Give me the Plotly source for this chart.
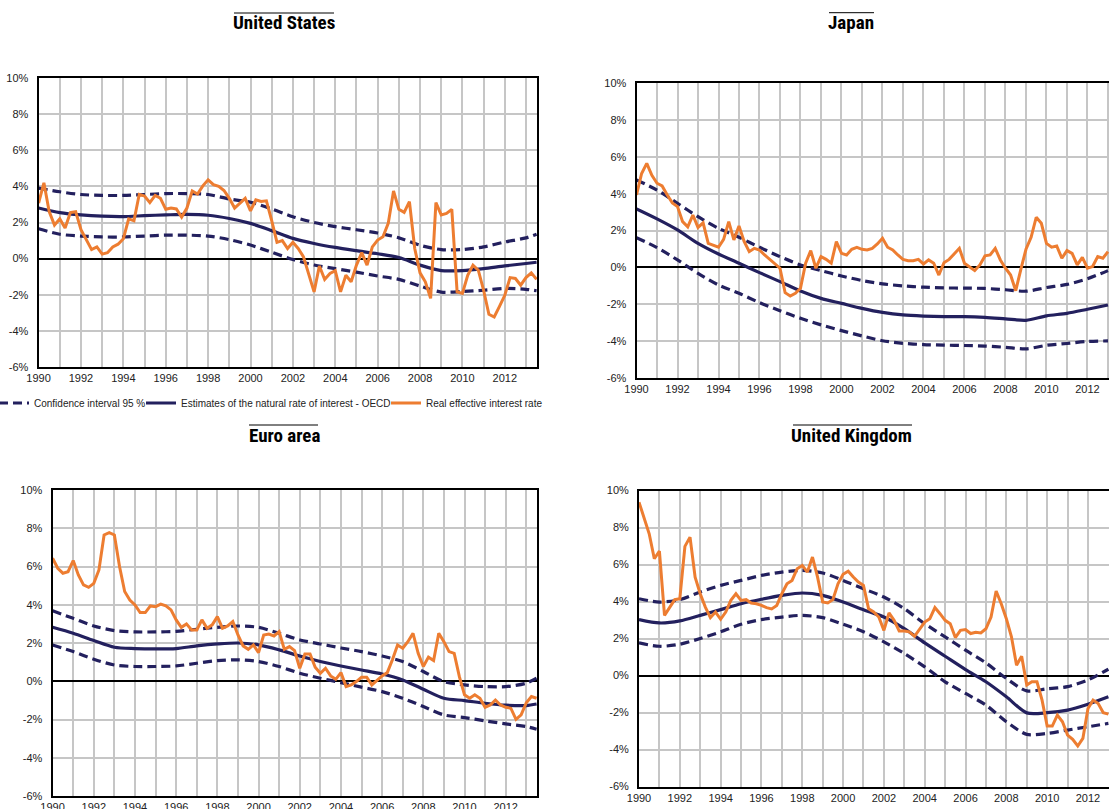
import plotly.graph_objects as go

# ---------------- DATA ----------------
panel_titles = ["United States", "Japan", "Euro area", "United Kingdom"]
series_names = ["Confidence interval 95 %",
                "Estimates of the natural rate of interest - OECD",
                "Real effective interest rate"]
y_tick_vals = [-6, -4, -2, 0, 2, 4, 6, 8, 10]
y_tick_text = ["-6%", "-4%", "-2%", "0%", "2%", "4%", "6%", "8%", "10%"]

# yearly points for the smooth estimates
years_long = [1990, 1991, 1992, 1993, 1994, 1995, 1996, 1997, 1998, 1999, 2000, 2001,
              2002, 2003, 2004, 2005, 2006, 2007, 2008, 2009, 2010, 2011, 2012, 2013, 2013.5]
years_short = [1990, 1991, 1992, 1993, 1994, 1995, 1996, 1997, 1998, 1999, 2000, 2001,
               2002, 2003, 2004, 2005, 2006, 2007, 2008, 2009, 2010, 2011, 2012, 2013]

# United States
us_nat = [2.8, 2.55, 2.42, 2.35, 2.33, 2.38, 2.42, 2.45, 2.4, 2.22, 1.95, 1.55,
          1.12, 0.84, 0.62, 0.44, 0.27, 0.06, -0.36, -0.66, -0.66, -0.55, -0.4, -0.27, -0.2]
us_up = [3.9, 3.7, 3.55, 3.5, 3.5, 3.55, 3.6, 3.6, 3.55, 3.3, 3.12, 2.75,
         2.32, 2.0, 1.77, 1.6, 1.42, 1.15, 0.74, 0.5, 0.5, 0.65, 0.92, 1.15, 1.35]
us_lo = [1.65, 1.35, 1.25, 1.2, 1.2, 1.25, 1.3, 1.3, 1.25, 1.05, 0.75, 0.35,
         -0.05, -0.35, -0.55, -0.75, -0.96, -1.15, -1.52, -1.85, -1.82, -1.75, -1.65, -1.7, -1.78]
us_real = [3.07, 4.2, 2.6, 1.86, 2.2, 1.7, 2.55, 2.6, 1.6, 1.06, 0.5, 0.65,
           0.25, 0.33, 0.65, 0.8, 1.1, 2.2, 2.1, 3.56, 3.47, 3.1, 3.5, 3.34,
           2.73, 2.8, 2.75, 2.3, 2.8, 3.75, 3.58, 4.03, 4.36, 4.1, 4.0, 3.77,
           3.34, 2.8, 3.07, 3.34, 2.64, 3.25, 3.16, 3.2, 2.1, 0.9, 1.0, 0.56,
           0.9, 0.56, 0.1, -0.86, -1.84, -0.41, -1.15, -0.82, -0.67, -1.84, -0.92, -1.28,
           -0.36, 0.33, -0.36, 0.65, 1.03, 1.21, 1.95, 3.75, 2.73, 2.56, 3.16, 0.56,
           -0.79, -1.28, -2.2, 3.1, 2.42, 2.5, 2.73, -1.84, -1.93, -0.92, -0.36, -0.64,
           -1.75, -3.08, -3.23, -2.64, -2.03, -1.05, -1.1, -1.47, -1.05, -0.79, -1.15]

# Japan
jp_nat = [3.17, 2.63, 2.03, 1.3, 0.72, 0.22, -0.29, -0.78, -1.29, -1.69, -1.96, -2.23,
          -2.45, -2.59, -2.65, -2.68, -2.68, -2.72, -2.8, -2.88, -2.64, -2.5, -2.28, -2.05]
jp_up = [4.75, 4.2, 3.48, 2.75, 2.12, 1.63, 1.09, 0.58, 0.13, -0.18, -0.47, -0.72,
         -0.9, -1.01, -1.08, -1.12, -1.13, -1.15, -1.22, -1.3, -1.1, -0.93, -0.62, -0.18]
jp_lo = [1.61, 1.07, 0.4, -0.33, -0.96, -1.41, -1.92, -2.36, -2.77, -3.13, -3.44, -3.73,
         -3.99, -4.13, -4.2, -4.23, -4.25, -4.28, -4.35, -4.43, -4.24, -4.14, -4.03, -4.0]
jp_real = [3.93, 5.1, 5.65, 5.0, 4.57, 4.42, 3.93, 3.5, 3.3, 2.48, 2.2, 2.84,
           2.17, 2.42, 1.3, 1.21, 1.09, 1.52, 2.48, 1.49, 2.25, 1.4, 0.85, 1.03,
           0.94, 0.67, 0.43, 0.22, -0.05, -1.38, -1.56, -1.41, -1.14, 0.22, 0.91, -0.05,
           0.58, 0.43, 0.22, 1.4, 0.76, 0.67, 0.98, 1.09, 0.98, 0.94, 1.03, 1.27,
           1.58, 1.09, 0.94, 0.67, 0.43, 0.36, 0.36, 0.43, 0.18, 0.4, 0.22, -0.42,
           0.25, 0.43, 0.72, 1.03, 0.22, 0.04, -0.18, 0.13, 0.62, 0.67, 1.03, 0.4,
           -0.05, -0.42, -1.27, -0.11, 0.98, 1.63, 2.72, 2.39, 1.3, 1.09, 1.16, 0.49,
           0.91, 0.76, 0.13, 0.54, -0.05, 0.04, 0.58, 0.49, 0.85]

# Euro area
ea_nat = [2.82, 2.51, 2.13, 1.78, 1.71, 1.69, 1.71, 1.85, 1.95, 2.0, 1.9, 1.64,
          1.32, 1.03, 0.8, 0.59, 0.38, 0.07, -0.42, -0.89, -1.01, -1.15, -1.25, -1.27, -1.19]
ea_up = [3.68, 3.29, 2.89, 2.65, 2.58, 2.58, 2.61, 2.72, 2.82, 2.89, 2.82, 2.51,
         2.16, 1.95, 1.74, 1.55, 1.32, 1.03, 0.51, -0.02, -0.19, -0.28, -0.28, -0.1, 0.16]
ea_lo = [1.9, 1.55, 1.15, 0.85, 0.77, 0.77, 0.8, 0.94, 1.08, 1.12, 1.03, 0.77,
         0.42, 0.16, -0.07, -0.31, -0.54, -0.89, -1.32, -1.76, -1.9, -2.07, -2.23, -2.37, -2.51]
ea_real = [6.43, 5.91, 5.65, 5.73, 6.31, 5.56, 5.04, 4.91, 5.12, 5.82, 7.65, 7.77,
           7.65, 6.0, 4.69, 4.25, 3.99, 3.59, 3.59, 3.94, 3.9, 4.03, 3.94, 3.73,
           3.21, 2.82, 3.0, 2.68, 2.68, 3.21, 2.77, 2.95, 3.38, 2.77, 2.89, 3.12,
           2.42, 1.85, 1.67, 1.9, 1.5, 2.42, 2.47, 2.37, 2.6, 1.67, 1.81, 1.6,
           0.68, 1.43, 1.43, 0.73, 0.42, 0.68, 0.28, 0.1, 0.45, -0.28, -0.19, -0.02,
           0.21, 0.21, -0.19, 0.07, 0.28, 0.45, 1.12, 1.9, 1.73, 2.07, 2.51, 1.46,
           0.77, 1.26, 1.08, 2.51, 2.07, 1.55, 1.46, 0.24, -0.71, -0.89, -0.71, -0.89,
           -1.36, -1.24, -0.98, -1.24, -1.36, -1.41, -1.99, -1.76, -1.12, -0.8, -0.89]

# United Kingdom
uk_nat = [3.02, 2.84, 2.95, 3.25, 3.56, 3.88, 4.12, 4.33, 4.46, 4.33, 3.97, 3.56,
          3.16, 2.53, 1.76, 1.04, 0.32, -0.34, -1.15, -2.02, -2.01, -1.87, -1.55, -1.15]
uk_up = [4.15, 3.97, 4.1, 4.51, 4.87, 5.14, 5.41, 5.59, 5.68, 5.54, 5.14, 4.69,
         4.24, 3.61, 2.8, 2.09, 1.37, 0.68, -0.16, -0.83, -0.72, -0.6, -0.24, 0.34]
uk_lo = [1.76, 1.58, 1.69, 2.0, 2.36, 2.77, 3.02, 3.16, 3.25, 3.13, 2.77, 2.36,
         1.82, 1.19, 0.47, -0.34, -0.97, -1.6, -2.5, -3.18, -3.13, -2.95, -2.77, -2.59]
uk_real = [9.37, 8.56, 7.66, 6.31, 6.72, 3.25, 3.7, 4.1, 4.15, 6.98, 7.48, 5.32,
           4.42, 3.7, 3.13, 3.43, 3.04, 3.43, 4.06, 4.42, 4.06, 4.1, 3.92, 3.88,
           3.79, 3.67, 3.6, 3.79, 4.42, 4.96, 5.14, 5.77, 5.95, 5.59, 6.4, 5.32,
           3.97, 3.92, 4.1, 4.96, 5.47, 5.64, 5.32, 5.05, 4.87, 3.61, 3.43, 3.16,
           2.44, 3.38, 2.98, 2.41, 2.41, 2.36, 2.12, 2.53, 2.89, 3.07, 3.67, 3.34,
           2.98, 2.8, 2.05, 2.44, 2.48, 2.27, 2.34, 2.3, 2.53, 3.16, 4.57, 3.88,
           3.07, 2.09, 0.56, 1.04, -0.52, -0.34, -0.34, -1.33, -2.73, -2.73, -2.14, -2.5,
           -3.22, -3.45, -3.81, -3.4, -1.78, -1.33, -1.51, -2.01, -2.09]

# ---------------- STYLE ----------------
NAVY = "#23205E"
ORANGE = "#ED7D31"
GRID = "#C6C6C6"
FONT = "Liberation Sans, Arial, sans-serif"
TITLE_FONT = "Liberation Sans Narrow, Arial Narrow, Roboto Condensed, DejaVu Sans Condensed, sans-serif"
W, H = 1109, 809


def quarters(n):
    return [1990 + 0.25 * i for i in range(n)]


panels = [
    # (years, nat, up, lo, real, x px (left,right), y px (top,bottom), x range end, right frame)
    (years_long, us_nat, us_up, us_lo, us_real, (38.6, 537), (78, 367), 2013.52, True),
    (years_short, jp_nat, jp_up, jp_lo, jp_real, (636.5, 1109), (83.3, 377.7), 2013.05, False),
    (years_long, ea_nat, ea_up, ea_lo, ea_real, (52.6, 537), (490, 796), 2013.52, True),
    (years_short, uk_nat, uk_up, uk_lo, uk_real, (639, 1109), (490.5, 786.5), 2013.03, False),
]

fig = go.Figure()
layout_axes = {}
for i, (yrs, nat, up, lo, real, xd, yd, xend, mir) in enumerate(panels):
    k = "" if i == 0 else str(i + 1)
    xa, ya = "x" + k, "y" + k
    first = (i == 0)
    dash_line = dict(color=NAVY, width=3.2, dash="9px,5px", shape="spline", smoothing=0.8)
    fig.add_trace(go.Scatter(x=yrs, y=up, xaxis=xa, yaxis=ya, mode="lines", line=dash_line,
                             name=series_names[0], legend="legend", showlegend=first))
    fig.add_trace(go.Scatter(x=yrs, y=lo, xaxis=xa, yaxis=ya, mode="lines", line=dash_line,
                             name=series_names[0], legend="legend", showlegend=False))
    fig.add_trace(go.Scatter(x=yrs, y=nat, xaxis=xa, yaxis=ya, mode="lines",
                             line=dict(color=NAVY, width=3.2, shape="spline", smoothing=0.8),
                             name=series_names[1], legend="legend2", showlegend=first))
    fig.add_trace(go.Scatter(x=quarters(len(real)), y=real, xaxis=xa, yaxis=ya, mode="lines",
                             line=dict(color=ORANGE, width=3),
                             name=series_names[2], legend="legend3", showlegend=first))

    layout_axes["xaxis" + k] = dict(
        domain=[xd[0] / W, xd[1] / W], range=[1990, xend], anchor=ya, automargin=False,
        tickmode="linear", tick0=1990, dtick=2, tickformat="d",
        showgrid=True, gridcolor=GRID, gridwidth=2,
        minor=dict(tick0=1990, dtick=1, showgrid=True, gridcolor=GRID, gridwidth=2),
        showline=True, linecolor="black", linewidth=2, mirror=True,
        ticks="", zeroline=False, tickfont=dict(family=FONT, size=11, color="#222"),
    )
    layout_axes["yaxis" + k] = dict(
        domain=[1 - yd[1] / H, 1 - yd[0] / H], range=[-6, 10], anchor=xa, automargin=False,
        tickmode="array", tickvals=y_tick_vals, ticktext=y_tick_text,
        showgrid=True, gridcolor=GRID, gridwidth=2,
        zeroline=True, zerolinecolor="black", zerolinewidth=1.5,
        showline=True, linecolor="black", linewidth=2, mirror=mir,
        ticks="", ticklabelstandoff=6, tickfont=dict(family=FONT, size=11, color="#222"),
    )

fig.update_layout(**layout_axes)

# panel titles with overline
title_pos = [(284, 23, 234, 334, 13), (851, 23, 829, 874, 12.7),
             (284, 436, 249, 318, 425), (851, 436, 793, 912, 425)]
shapes = []
annotations = []
for t, (cx, cy, x0, x1, ly) in zip(panel_titles, title_pos):
    annotations.append(dict(text="<b>" + t + "</b>", x=cx / W, y=1 - cy / H, xref="paper", yref="paper",
                            showarrow=False, xanchor="center", yanchor="middle",
                            font=dict(family=TITLE_FONT, size=19, color="black")))
    shapes.append(dict(type="line", xref="paper", yref="paper", x0=x0 / W, x1=x1 / W,
                       y0=1 - ly / H, y1=1 - ly / H, line=dict(color="black", width=1)))

legend_common = dict(orientation="h", y=1 - 403 / H, xanchor="left", yanchor="middle",
                     font=dict(family=FONT, size=10, color="#222"), itemwidth=30,
                     bgcolor="rgba(0,0,0,0)", borderwidth=0)

fig.update_layout(
    width=W, height=H, margin=dict(l=0, r=0, t=0, b=0, autoexpand=False),
    paper_bgcolor="white", plot_bgcolor="white",
    annotations=annotations, shapes=shapes,
    legend=dict(x=-6 / W, **legend_common),
    legend2=dict(x=141 / W, **legend_common),
    legend3=dict(x=386 / W, **legend_common),
    showlegend=True,
)

fig.write_html("out.html", config={"displayModeBar": False},
               post_script="document.body.style.margin='0';")
